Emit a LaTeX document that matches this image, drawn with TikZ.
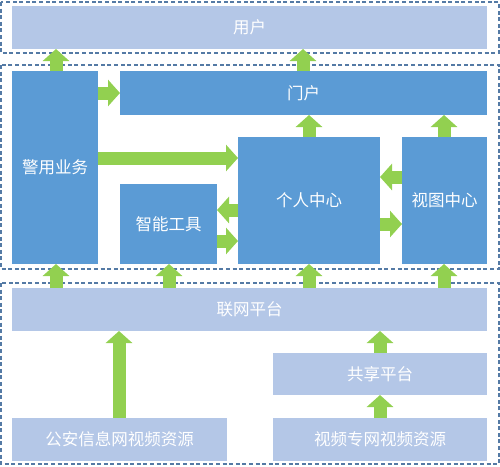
\documentclass[tikz,border=0pt]{standalone}
\usepackage{fontspec}
\newfontfamily\cjk{Noto Sans CJK SC}
\usetikzlibrary{arrows.meta}
\definecolor{darkb}{HTML}{5B9BD5}
\definecolor{lightb}{HTML}{B4C7E7}
\definecolor{dashc}{RGB}{84,122,165}
\definecolor{garr}{HTML}{92D050}
\tikzset{
  boxbase/.style={inner sep=0pt, outer sep=0pt, anchor=north west, text=white,
    font=\cjk\fontsize{16.5}{19}\selectfont},
  dbox/.style={boxbase, fill=darkb},
  lbox/.style={boxbase, fill=lightb},
  dashbox/.style={draw=dashc, line width=1.4pt, dash pattern=on 4pt off 2.6pt},
  garrow/.style={draw=garr, line width=13pt, -{Triangle[width=26pt,length=12pt]}}
}
\begin{document}
\begin{tikzpicture}[x=1pt,y=-1pt]
\useasboundingbox (0,0) rectangle (500,466);
% dashed groups
\draw[dashbox] (1,2) rectangle (499,53);
\draw[dashbox] (1,65) rectangle (499,269);
\draw[dashbox] (1,283) rectangle (499,464);
% boxes
\node[lbox, minimum width=475pt, minimum height=43pt] (yh) at (12,6) {用户};
\node[dbox, minimum width=86pt, minimum height=193pt] (jy) at (12,71) {警用业务};
\node[dbox, minimum width=367pt, minimum height=44pt] (mh) at (120,71) {门户};
\node[dbox, minimum width=142pt, minimum height=127pt] (gr) at (238,137) {个人中心};
\node[dbox, minimum width=85pt, minimum height=127pt] (st) at (402,137) {视图中心};
\node[dbox, minimum width=97pt, minimum height=80pt] (zn) at (120,184) {智能工具};
\node[lbox, minimum width=475pt, minimum height=43pt] (lw) at (12,288) {联网平台};
\node[lbox, minimum width=215pt, minimum height=43pt] (ga) at (12,418) {公安信息网视频资源};
\node[lbox, minimum width=214pt, minimum height=42pt] (gx) at (273,353) {共享平台};
\node[lbox, minimum width=214pt, minimum height=43pt] (sp) at (273,418) {视频专网视频资源};
% arrows
\draw[garrow] (jy.north -| 56,0) -- (yh.south -| 56,0);
\draw[garrow] (mh.north -| 303,0) -- (yh.south -| 303,0);
\draw[garrow] (jy.east |- 0,93) -- (mh.west |- 0,93);
\draw[garrow] (jy.east |- 0,158) -- (gr.west |- 0,158);
\draw[garrow] (gr.north -| 309,0) -- (mh.south -| 309,0);
\draw[garrow] (st.north -| 444,0) -- (mh.south -| 444,0);
\draw[garrow] (gr.west |- 0,210) -- (zn.east |- 0,210);
\draw[garrow] (zn.east |- 0,241) -- (gr.west |- 0,241);
\draw[garrow] (st.west |- 0,177) -- (gr.east |- 0,177);
\draw[garrow] (gr.east |- 0,224) -- (st.west |- 0,224);
\draw[garrow] (lw.north -| 56,0) -- (jy.south -| 56,0);
\draw[garrow] (lw.north -| 169,0) -- (zn.south -| 169,0);
\draw[garrow] (lw.north -| 309,0) -- (gr.south -| 309,0);
\draw[garrow] (lw.north -| 444,0) -- (st.south -| 444,0);
\draw[garrow] (ga.north -| 119,0) -- (lw.south -| 119,0);
\draw[garrow] (sp.north -| 380,0) -- (gx.south -| 380,0);
\draw[garrow] (gx.north -| 380,0) -- (lw.south -| 380,0);
\end{tikzpicture}
\end{document}
